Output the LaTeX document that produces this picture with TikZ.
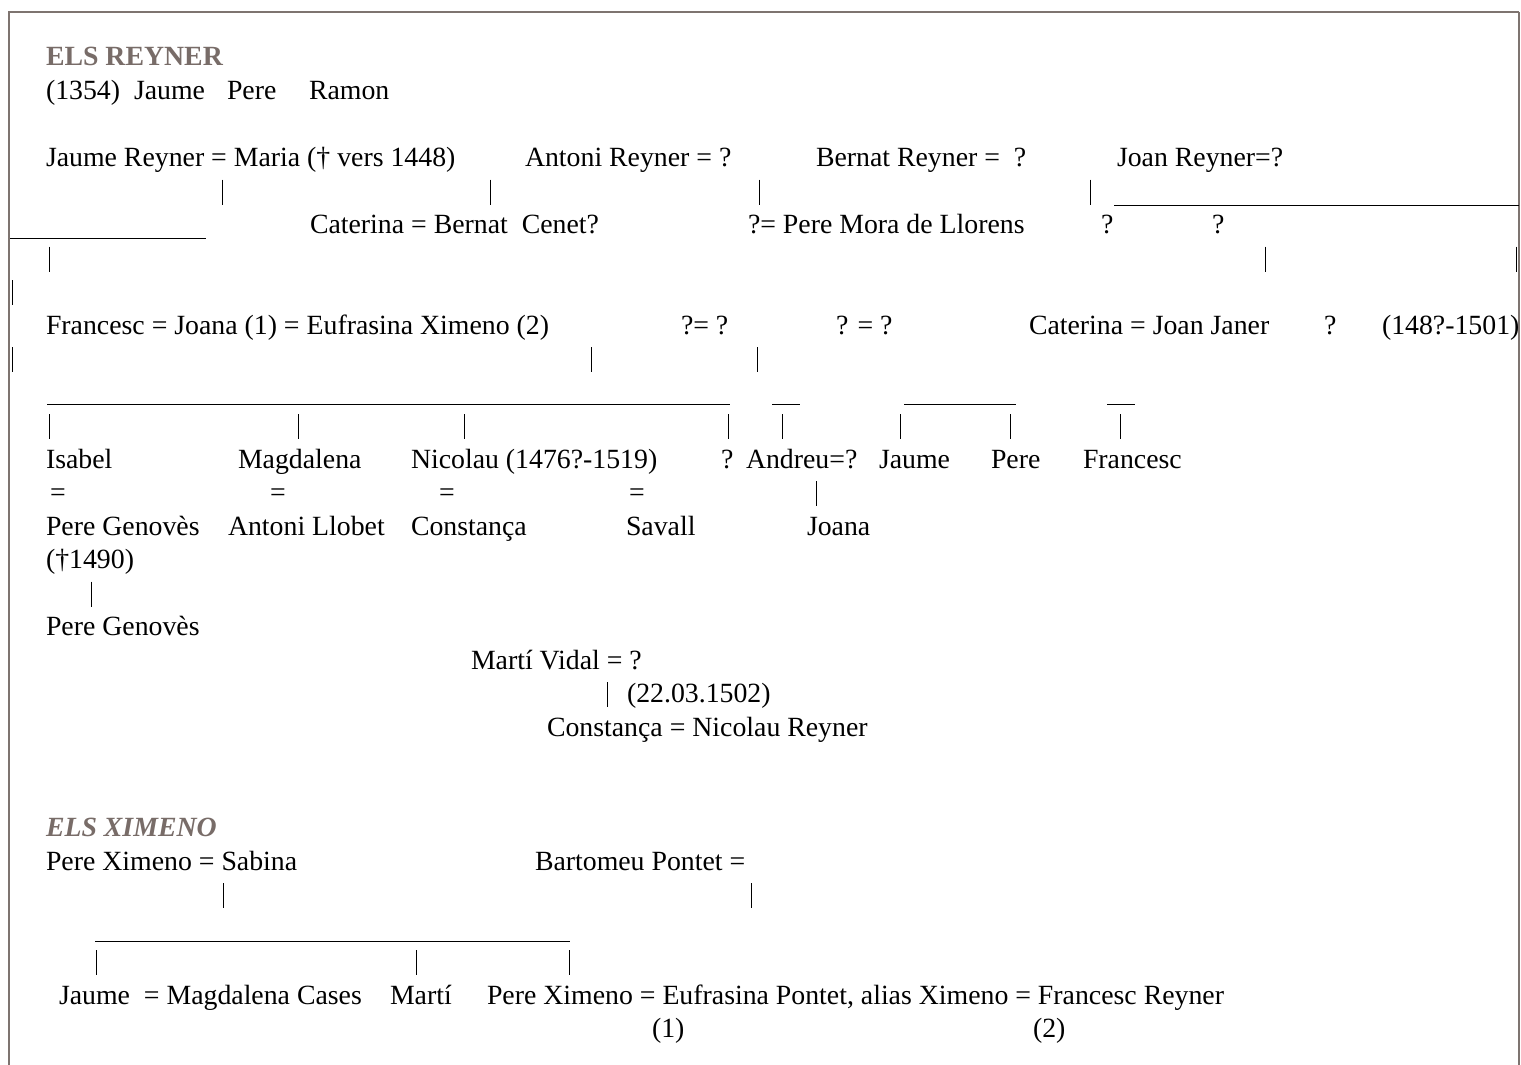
\documentclass[tikz,border=0pt]{standalone}
\usepackage{fontspec}
\setmainfont{Liberation Serif}
\definecolor{headcol}{HTML}{786C68}
\definecolor{framecol}{HTML}{7E7470}
\begin{document}
\begin{tikzpicture}[x=1pt,y=-1pt,
  txt/.style={anchor=base west,inner sep=0pt,outer sep=0pt,font=\fontsize{27.8}{33}\selectfont},
  head/.style={txt,text=headcol,font=\fontsize{27.8}{33}\selectfont\bfseries},
  conn/.style={line width=1pt,black},
  frame/.style={line width=2.4pt,framecol}]
\useasboundingbox (0,0) rectangle (1521,1065);
\newcommand{\vb}[3]{\coordinate (#1a) at (#2,{#3-20.5}); \coordinate (#1b) at (#2,{#3+4.5}); \draw[conn] (#1a) -- (#1b);}
\newcommand{\hb}[4]{\coordinate (#1a) at (#2,{#4+4.5}); \coordinate (#1b) at (#3,{#4+4.5}); \draw[conn] (#1a) -- (#1b);}
% frame
\coordinate (fa) at (9,1065); \coordinate (fb) at (9,12); \coordinate (fc) at (1519,12); \coordinate (fd) at (1519,1065);
\draw[frame] (fa) -- (fb) -- (fc);
\draw[framecol,line width=1.4pt] (fc) -- (fd);
% L-8
\node[head] (h1) at (46,66) {ELS REYNER};
% L-7
\node[txt] (a1) at (46,99.5) {(1354)};
\node[txt] (a2) at (134,99.5) {Jaume};
\node[txt] (a3) at (227,99.5) {Pere};
\node[txt] (a4) at (309,99.5) {Ramon};
% L-5
\node[txt] (b1) at (46,166.5) {Jaume Reyner = Maria († vers 1448)};
\node[txt] (b2) at (525,166.5) {Antoni Reyner = ?};
\node[txt] (b3) at (816,166.5) {Bernat Reyner =\ \ ?};
\node[txt] (b4) at (1117,166.5) {Joan Reyner=?};
% L-4
\vb{v1}{222}{200} \vb{v2}{490}{200} \vb{v3}{759}{200} \vb{v4}{1090}{200}
\hb{h2}{1114}{1519}{200.5}
% L-3
\hb{h3}{10}{206}{233.5}
\node[txt] (c1) at (310,233.5) {Caterina = Bernat\ \ Cenet?};
\node[txt] (c2) at (748,233.5) {?= Pere Mora de Llorens};
\node[txt] (c3) at (1101,233.5) {?};
\node[txt] (c4) at (1212,233.5) {?};
% L-2
\vb{v5}{49}{267} \vb{v6}{1265}{267} \vb{v7}{1516.5}{267}
% L-1
\vb{v8}{12.5}{300.5}
% L0
\node[txt] (d1) at (46,334) {Francesc = Joana (1) = Eufrasina Ximeno (2)};
\node[txt] (d2) at (681,334) {?= ?};
\node[txt] (d3) at (836,334) {? = ?};
\node[txt] (d4) at (1029,334) {Caterina = Joan Janer};
\node[txt] (d5) at (1324,334) {?};
\node[txt] (d6) at (1382,334) {(148?-1501)};
% L1
\vb{v9}{12.5}{367.5} \vb{v10}{591.5}{367.5} \vb{v11}{757}{367.5}
% L2
\hb{h4}{47}{730}{400} \hb{h5}{772}{800}{400} \hb{h6}{904}{1016}{400} \hb{h7}{1107}{1135}{400}
% L3
\vb{v12}{49}{434.5} \vb{v13}{298}{434.5} \vb{v14}{464.5}{434.5} \vb{v15}{728.5}{434.5}
\vb{v16}{782.5}{434.5} \vb{v17}{900}{434.5} \vb{v18}{1010}{434.5} \vb{v19}{1120.5}{434.5}
% L4
\node[txt] (e1) at (46,468) {Isabel};
\node[txt] (e2) at (238,468) {Magdalena};
\node[txt] (e3) at (411,468) {Nicolau (1476?-1519)};
\node[txt] (e4) at (721,468) {?};
\node[txt] (e5) at (746,468) {Andreu=?};
\node[txt] (e6) at (879,468) {Jaume};
\node[txt] (e7) at (991,468) {Pere};
\node[txt] (e8) at (1083,468) {Francesc};
% L5
\node[txt] (f1) at (50,501.5) {=};
\node[txt] (f2) at (270,501.5) {=};
\node[txt] (f3) at (439,501.5) {=};
\node[txt] (f4) at (629,501.5) {=};
\vb{v20}{816.5}{501.5}
% L6
\node[txt] (g1) at (46,535) {Pere Genovès};
\node[txt] (g2) at (228,535) {Antoni Llobet};
\node[txt] (g3) at (411,535) {Constança};
\node[txt] (g4) at (626,535) {Savall};
\node[txt] (g5) at (807,535) {Joana};
% L7
\node[txt] (g6) at (46,568.5) {(†1490)};
% L8
\vb{v21}{91}{602}
% L9
\node[txt] (i1) at (46,635.5) {Pere Genovès};
% L10
\node[txt] (j1) at (471,669) {Martí Vidal = ?};
% L11
\vb{v22}{607.5}{702.5}
\node[txt] (j2) at (627,702.5) {(22.03.1502)};
% L12
\node[txt] (j3) at (547,736) {Constança = Nicolau Reyner};
% L15
\node[head,font=\fontsize{27.8}{33}\selectfont\bfseries\itshape] (h8) at (46,836.5) {ELS XIMENO};
% L16
\node[txt] (k1) at (46,870) {Pere Ximeno = Sabina};
\node[txt] (k2) at (535,870) {Bartomeu Pontet =};
% L17
\vb{v23}{223}{903.5} \vb{v24}{751.5}{903.5}
% L18
\hb{h9}{95}{570}{936.5}
% L19
\vb{v25}{96}{970.5} \vb{v26}{416}{970.5} \vb{v27}{569}{970.5}
% L20
\node[txt] (m1) at (59,1004) {Jaume\ \ = Magdalena Cases};
\node[txt] (m2) at (390,1004) {Martí};
\node[txt] (m3) at (487,1004) {Pere Ximeno = Eufrasina Pontet, alias Ximeno = Francesc Reyner};
% L21
\node[txt] (m4) at (652,1037.5) {(1)};
\node[txt] (m5) at (1033,1037.5) {(2)};
\end{tikzpicture}
\end{document}
